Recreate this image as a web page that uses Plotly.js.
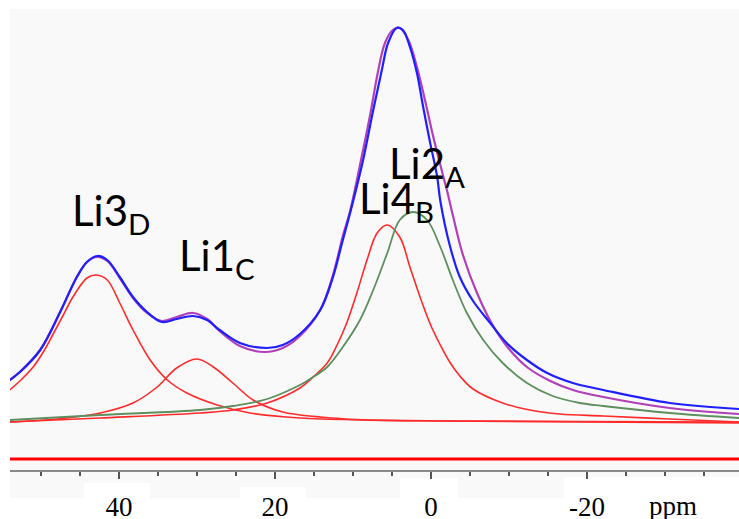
<!DOCTYPE html>
<html>
<head>
<meta charset="utf-8">
<script src="https://cdn.plot.ly/plotly-3.0.1.min.js"></script>
<style>html,body{margin:0;padding:0;background:#fff;}#chart{width:739px;height:519px;}</style>
</head>
<body>
<div id="chart"></div>
<script>
// Chemical shift (ppm) and intensity (arbitrary units)
const expPpm = [54.0,52.7,50.1,47.6,45.4,44.1,42.8,41.5,39.9,38.2,36.4,34.5,32.6,30.5,28.7,27.1,24.5,21.0,19.0,16.8,14.2,12.6,11.3,10.1,8.7,7.4,6.3,5.5,4.4,3.6,2.7,1.8,1.0,0.1,-0.8,-1.2,-2.4,-3.7,-5.4,-7.6,-9.7,-12.3,-14.9,-18.2,-22.1,-30.6,-39.5];
const expInt = [41,49,71,108,144,159,165,161,144,124,109,99,102,105,101,91,78,73,76,87,111,143,181,216,261,311,351,378,393,391,374,348,314,278,244,220,176,144,120,98,78,61,48,38,31,18,12];

const fitPpm = [54.0,52.7,50.1,47.6,45.4,44.1,42.8,41.5,39.9,38.2,36.4,34.5,32.6,30.5,28.7,27.1,24.5,21.3,19.0,16.8,14.2,12.6,11.3,10.4,9.1,7.8,6.8,5.9,4.9,4.0,2.9,1.8,0.8,-0.3,-1.4,-2.1,-2.8,-4.1,-5.9,-7.9,-9.7,-12.3,-15.3,-18.2,-22.1,-30.6,-39.5];
const fitInt = [41,49,71,108,144,159,164,160,143,123,108,100,104,108,102,90,75,69,73,85,111,145,185,209,256,306,349,378,391,393,381,354,322,284,250,229,206,166,128,96,75,54,40,31,24,13,7];

const li3Ppm = [54.0,52.7,51.0,49.7,48.5,47.2,45.9,44.1,42.9,41.5,39.9,38.2,36.0,33.8,31.3,27.4,23.2,16.8,8.2,-2.4,-39.5];
const li3Int = [31,40,54,69,86,105,124,143,146,141,118,91,61,41,28,16,8,3,1,0,-1];

const li1Ppm = [54.0,46.7,42.4,38.2,35.1,32.6,30.0,27.9,25.4,22.8,19.0,12.6,8.2,-2.4,-39.5];
const li1Int = [-1,3,8,18,34,53,62,54,38,21,9,3,1,0,-2];

const li4Ppm = [54.0,42.4,29.6,25.4,21.0,16.8,15.1,13.3,12.1,10.8,9.5,8.2,6.9,5.6,4.0,2.7,1.4,0.1,-1.2,-2.4,-3.7,-5.4,-9.2,-12.7,-16.5,-22.1,-30.6,-39.5];
const li4Int = [-1,3,8,11,18,33,44,58,75,98,128,161,188,196,184,154,124,97,76,59,45,32,18,11,7,5,2,-1];

const li2Ppm = [54.0,42.4,29.6,25.4,21.0,16.8,15.5,13.3,11.3,9.1,7.4,5.6,4.0,2.3,0.5,-1.2,-2.8,-4.6,-6.7,-9.2,-12.3,-15.6,-19.1,-22.1,-30.6,-39.5];
const li2Int = [1,6,11,15,22,36,42,54,74,101,131,168,201,209,201,174,141,108,81,58,38,25,18,15,8,3];

const refPpm = [54.0,-39.5];
const refInt = [-38,-38];

const tickVals = [40,20,0,-20];
const tickText = ['40','20','0','-20'];
const peakLabels = ['Li3<sub>D</sub>','Li1<sub>C</sub>','Li4<sub>B</sub>','Li2<sub>A</sub>'];
const labelPpm = [46.3,32.6,9.5,5.6];
const labelInt = [238,193,250,285];

function line(x,y,color,width){
  return {x:x,y:y,type:'scatter',mode:'lines',line:{color:color,width:width,shape:'spline',smoothing:1},hoverinfo:'skip',showlegend:false};
}

const data = [
  {x:refPpm,y:refInt,type:'scatter',mode:'lines',line:{color:'#ff0000',width:3},hoverinfo:'skip',showlegend:false},
  line(li3Ppm,li3Int,'#ff2b2b',1.6),
  line(li1Ppm,li1Int,'#ff2b2b',1.6),
  line(li4Ppm,li4Int,'#ff2b2b',1.6),
  line(li2Ppm,li2Int,'#5e8f5e',1.8),
  line(fitPpm,fitInt,'#b040b8',2.2),
  line(expPpm,expInt,'#1f1fff',2.2)
];

function px2paperX(p){return (p-10)/729;}
function px2paperY(p){return (470-p)/461;}
const boxes = [[84,150,483],[240,306,487],[400,458,478],[564,739,477]];
const shapes = [{type:'rect',xref:'paper',yref:'paper',x0:0,x1:1,y0:px2paperY(498),y1:0,fillcolor:'#f9f9f9',line:{width:0},layer:'below'}];
boxes.forEach(b=>shapes.push({type:'rect',xref:'paper',yref:'paper',x0:px2paperX(b[0]),x1:px2paperX(b[1]),y0:px2paperY(498),y1:px2paperY(b[2]),fillcolor:'#ffffff',line:{width:0},layer:'below'}));

const annotations = peakLabels.map((t,i)=>({text:t,x:labelPpm[i],y:labelInt[i],xref:'x',yref:'y',xanchor:'left',yanchor:'top',showarrow:false,font:{family:'Lato, "Open Sans", sans-serif',size:42,color:'#000'}}));
annotations.push({text:'ppm',x:px2paperX(673),y:px2paperY(506),xref:'paper',yref:'paper',xanchor:'center',yanchor:'middle',showarrow:false,font:{family:'"Liberation Serif", "Times New Roman", serif',size:27,color:'#000'}});

const layout = {
  width:739,height:519,
  margin:{l:10,r:0,t:9,b:49,pad:0},
  paper_bgcolor:'#ffffff',plot_bgcolor:'#f9f9f9',
  showlegend:false,
  xaxis:{range:[53.97,-39.49],showgrid:false,zeroline:false,showline:true,linecolor:'#8a8a8a',linewidth:1.6,
    ticks:'outside',ticklen:7,tickwidth:1.5,tickcolor:'#555',tickvals:tickVals,ticktext:tickText,
    minor:{dtick:5,tick0:0,ticks:'outside',ticklen:4,tickwidth:1.3,tickcolor:'#555',showgrid:false},
    ticklabelstandoff:5,
    tickfont:{family:'"Liberation Serif", "Times New Roman", serif',size:27,color:'#000'},fixedrange:true},
  yaxis:{range:[-49,412],visible:false,showgrid:false,zeroline:false,fixedrange:true},
  shapes:shapes,
  annotations:annotations
};
Plotly.newPlot('chart',data,layout,{displayModeBar:false,staticPlot:true});
</script>
</body>
</html>
